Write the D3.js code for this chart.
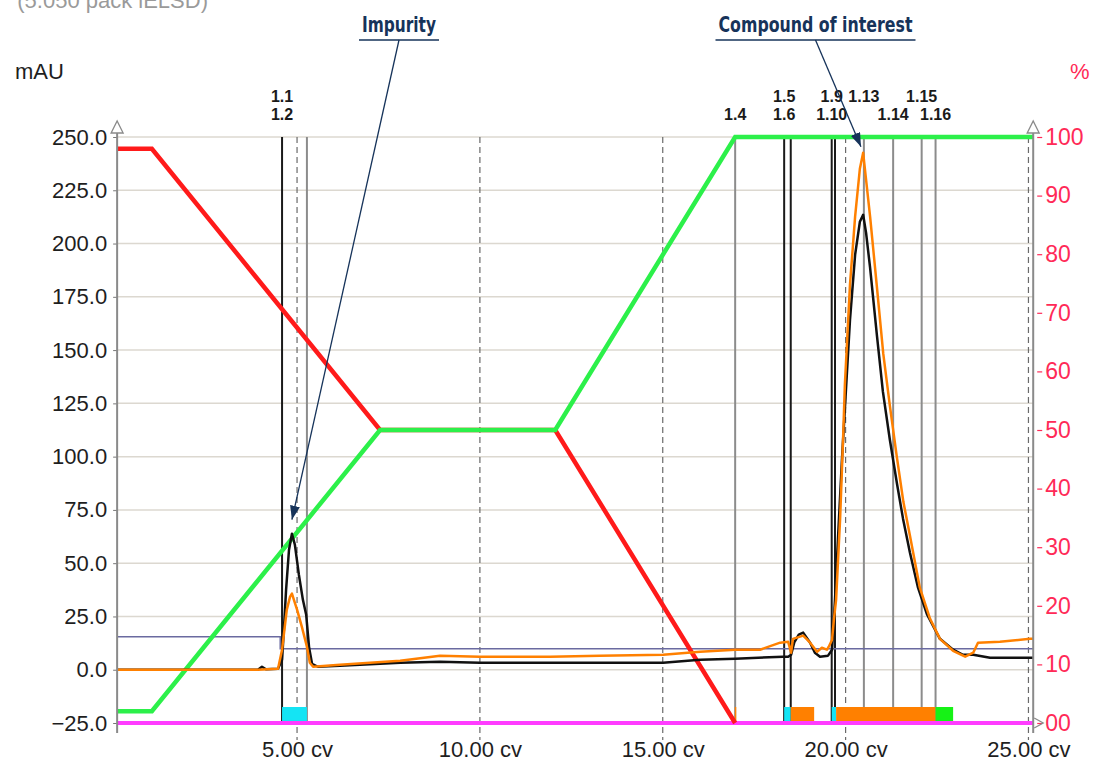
<!DOCTYPE html>
<html>
<head>
<meta charset="utf-8">
<script src="https://cdn.jsdelivr.net/npm/d3@7"></script>
<style>
  body { margin: 0; background: #fff; }
  svg { display: block; font-family: "Liberation Sans", Arial, sans-serif; }
</style>
</head>
<body>
<div id="chart"></div>
<script>
// UV trace (mAU) vs column volumes
const uvTrace = [
  [0.08,0],[3.93,0],[4.04,1.4],[4.15,0.2],[4.48,0.5],[4.59,4.7],[4.64,18.8],[4.70,37.5],[4.78,56.3],
  [4.86,63.8],[4.94,58.7],[5.05,44.6],[5.16,32.8],[5.25,25.8],[5.33,10.3],[5.41,2.8],[5.57,1.4],
  [6.17,1.9],[7.82,3.3],[8.91,3.8],[10.0,3.3],[13.28,3.3],[15.01,3.3],[16.02,4.7],[16.98,5.2],
  [18.29,6.1],[18.43,6.1],[18.51,7.0],[18.60,13.0],[18.72,16.5],[18.84,17.4],[19.03,12.7],[19.16,8.0],
  [19.30,6.1],[19.52,6.6],[19.63,9.4],[19.71,32.8],[19.79,61.0],[19.90,98.5],[20.01,131.4],[20.12,164.2],
  [20.26,194.7],[20.39,210.2],[20.48,213.5],[20.56,205.0],[20.67,188.6],[20.86,156.3],[21.02,130.5],
  [21.21,107.9],[21.41,86.8],[21.57,70.9],[21.76,54.9],[21.98,38.5],[22.23,25.8],[22.58,14.5],
  [22.94,9.4],[23.21,7.0],[23.49,7.0],[23.95,5.6],[25.13,5.6]
];
// ELSD trace
const elsdTrace = [
  [0.08,0],[3.93,0],[4.48,0.5],[4.59,9.4],[4.72,28.2],[4.81,34.3],[4.86,35.7],[5.00,28.2],[5.13,20.2],
  [5.27,10.8],[5.35,3.3],[5.44,1.4],[6.17,2.3],[7.82,4.2],[8.91,6.6],[10.0,6.1],[11.92,6.1],[13.28,6.6],
  [15.01,7.0],[16.02,8.4],[16.98,9.4],[17.66,9.4],[18.21,12.7],[18.43,13.1],[18.51,8.0],[18.56,14.5],
  [18.84,16.0],[19.03,12.7],[19.22,8.4],[19.35,10.3],[19.49,9.4],[19.54,10.8],[19.63,14.1],[19.68,23.5],
  [19.74,32.8],[19.85,70.9],[19.93,107.9],[19.98,133.7],[20.12,180.7],[20.26,212.6],[20.39,235.1],
  [20.48,242.6],[20.67,212.6],[20.85,180.7],[21.03,148.3],[21.21,123.9],[21.40,100.0],[21.58,78.8],
  [21.76,62.9],[22.03,38.5],[22.31,23.9],[22.58,14.5],[22.94,8.9],[23.27,6.1],[23.49,8.0],[23.62,12.7],
  [24.22,13.1],[25.04,14.5],[25.13,14.5]
];
// gradient (%)
const solventB = [[0.08,2],[1.03,2],[7.27,50],[12.06,50],[16.98,100],[25.13,100]];
const solventA = [[0.08,98],[1.03,98],[7.27,50],[12.06,50],[16.98,0]];
const thresholdLevel = [[0.08,15.5],[4.54,15.5],[4.54,9.9],[25.13,9.9]];
const baselinePct = [[0.08,0],[25.13,0]];

const fractionLabels = [
  {label:"1.1", cv:4.59, row:0}, {label:"1.2", cv:4.59, row:1},
  {label:"1.4", cv:16.98, row:1},
  {label:"1.5", cv:18.32, row:0}, {label:"1.6", cv:18.32, row:1},
  {label:"1.9", cv:19.62, row:0}, {label:"1.10", cv:19.62, row:1},
  {label:"1.13", cv:20.50, row:0}, {label:"1.14", cv:21.30, row:1},
  {label:"1.15", cv:22.08, row:0}, {label:"1.16", cv:22.46, row:1}
];
const fractionCuts = [
  {cv:4.59, main:true}, {cv:5.27, main:false}, {cv:16.98, main:false},
  {cv:18.32, main:true}, {cv:18.50, main:true}, {cv:19.62, main:true}, {cv:19.71, main:true},
  {cv:20.50, main:false}, {cv:21.30, main:false}, {cv:22.08, main:false}, {cv:22.46, main:false}
];
const tubes = [
  {from:4.59, to:5.27, kind:"cyan"}, {from:16.97, to:17.01, kind:"orange"},
  {from:18.32, to:18.50, kind:"cyan"}, {from:18.50, to:19.14, kind:"orange"},
  {from:19.62, to:19.74, kind:"cyan"}, {from:19.74, to:22.46, kind:"orange"},
  {from:22.46, to:22.94, kind:"green"}
];
const mauTicks = d3.range(-25, 251, 25);
const pctTicks = d3.range(0, 101, 10);
const cvTicks = [5, 10, 15, 20, 25];
const annotations = [
  {text:"Impurity", cv:4.86, mau:70.4},
  {text:"Compound of interest", cv:20.42, mau:245.4}
];

const width = 1095, height = 763;
const tubeColor = {cyan:"#14e4f4", orange:"#ff8000", green:"#16f216"};
const navy = "#16335a";
const pctRed = "#ff2a57";

const x = d3.scaleLinear().domain([0, 25]).range([114.2, 1028.45]);
const yL = d3.scaleLinear().domain([-25, 250]).range([723, 137]);
const yR = d3.scaleLinear().domain([0, 100]).range([723, 137]);
const xMin = x(0.08), xMax = x(25.13);

const svg = d3.select("#chart").append("svg")
    .attr("width", width)
    .attr("height", height)
    .attr("viewBox", [0, 0, width, height]);

// cut-off title at the very top
svg.append("text")
    .attr("x", 208).attr("y", 8)
    .attr("text-anchor", "end")
    .attr("font-size", 22)
    .attr("fill", "#9a9a9a")
    .text("(5.050 pack iELSD)");

// horizontal grid
svg.append("g")
  .selectAll("line")
  .data(mauTicks)
  .join("line")
    .attr("x1", xMin).attr("x2", xMax)
    .attr("y1", d => yL(d)).attr("y2", d => yL(d))
    .attr("stroke", "#dcd8d0")
    .attr("stroke-width", 1.5);

// dashed verticals at cv ticks
svg.append("g")
  .selectAll("line")
  .data(cvTicks)
  .join("line")
    .attr("x1", d => x(d)).attr("x2", d => x(d))
    .attr("y1", yL(250)).attr("y2", yL(-25) + 17)
    .attr("stroke", "#6a6a6a")
    .attr("stroke-width", 1.2)
    .attr("stroke-dasharray", "6,4");

// fraction cut lines
svg.append("g")
  .selectAll("line")
  .data(fractionCuts)
  .join("line")
    .attr("x1", d => x(d.cv)).attr("x2", d => x(d.cv))
    .attr("y1", yL(250)).attr("y2", yL(-25))
    .attr("stroke", d => d.main ? "#1a1a1a" : "#8c8c8c")
    .attr("stroke-width", 2);

// tube bars
svg.append("g")
  .selectAll("rect")
  .data(tubes)
  .join("rect")
    .attr("x", d => x(d.from))
    .attr("width", d => Math.max(1, x(d.to) - x(d.from)))
    .attr("y", yR(0) - 16)
    .attr("height", 16)
    .attr("fill", d => tubeColor[d.kind]);

const linePct = d3.line().x(d => x(d[0])).y(d => yR(d[1]));
const lineMau = d3.line().x(d => x(d[0])).y(d => yL(d[1]));

svg.append("path").datum(baselinePct)
    .attr("d", linePct).attr("fill", "none")
    .attr("stroke", "#ff3cff").attr("stroke-width", 4);

svg.append("path").datum(thresholdLevel)
    .attr("d", lineMau).attr("fill", "none")
    .attr("stroke", "#6a6aa0").attr("stroke-width", 1.5);

svg.append("path").datum(solventA)
    .attr("d", linePct).attr("fill", "none")
    .attr("stroke", "#ff1a1a").attr("stroke-width", 4.5);

svg.append("path").datum(solventB)
    .attr("d", linePct).attr("fill", "none")
    .attr("stroke", "#2cf04a").attr("stroke-width", 4.5);

svg.append("path").datum(uvTrace)
    .attr("d", lineMau).attr("fill", "none")
    .attr("stroke", "#111").attr("stroke-width", 2.5)
    .attr("stroke-linejoin", "round");

svg.append("path").datum(elsdTrace)
    .attr("d", lineMau).attr("fill", "none")
    .attr("stroke", "#ff8000").attr("stroke-width", 2.5)
    .attr("stroke-linejoin", "round");

// left axis
svg.append("g")
    .attr("transform", `translate(${xMin},0)`)
    .call(d3.axisLeft(yL).tickValues(mauTicks).tickFormat(d3.format(".1f")).tickSize(4).tickPadding(6))
    .call(g => g.select(".domain").remove())
    .call(g => g.selectAll(".tick line").attr("stroke", "#777"))
    .call(g => g.selectAll(".tick text")
        .attr("font-size", 22).attr("fill", "#1e1e1e").attr("font-family", "Liberation Sans, Arial"));

// right axis
svg.append("g")
    .attr("transform", `translate(${xMax},0)`)
    .call(d3.axisRight(yR).tickValues(pctTicks).tickFormat(d => d === 0 ? "00" : d).tickSize(0).tickPadding(12))
    .call(g => g.select(".domain").remove())
    .call(g => g.selectAll(".tick").append("line")
        .attr("x1", 4).attr("x2", 9).attr("stroke", pctRed).attr("stroke-width", 1.2))
    .call(g => g.selectAll(".tick text")
        .attr("font-size", 23).attr("fill", pctRed).attr("font-family", "Liberation Sans, Arial"));

// x axis labels
svg.append("g")
    .attr("transform", `translate(0,${yL(-25)})`)
    .call(d3.axisBottom(x).tickValues(cvTicks).tickFormat(d => d3.format(".2f")(d) + " cv").tickSize(0).tickPadding(18))
    .call(g => g.select(".domain").remove())
    .call(g => g.selectAll(".tick text")
        .attr("font-size", 22).attr("fill", "#1e1e1e").attr("font-family", "Liberation Sans, Arial"));

// axis lines with open arrow heads
[xMin, xMax].forEach(ax => {
  svg.append("line")
      .attr("x1", ax).attr("x2", ax)
      .attr("y1", yL(250) - 6).attr("y2", yL(-25) + 10)
      .attr("stroke", "#8a8a8a").attr("stroke-width", 2);
  svg.append("path")
      .attr("d", `M${ax - 6},${yL(250) - 4}L${ax},${yL(250) - 16}L${ax + 6},${yL(250) - 4}Z`)
      .attr("fill", "#fff").attr("stroke", "#8a8a8a").attr("stroke-width", 1.3);
});
svg.append("path")
    .attr("d", `M${xMax + 1},${yR(0) - 5}L${xMax + 10},${yR(0)}L${xMax + 1},${yR(0) + 5}`)
    .attr("fill", "none").attr("stroke", "#8a8a8a").attr("stroke-width", 1.3);

// axis titles
svg.append("text").attr("x", 15).attr("y", 79)
    .attr("font-size", 22).attr("fill", "#1e1e1e").text("mAU");
svg.append("text").attr("x", 1070).attr("y", 79)
    .attr("font-size", 22).attr("fill", pctRed).text("%");

// fraction labels
svg.append("g")
  .selectAll("text")
  .data(fractionLabels)
  .join("text")
    .attr("x", d => x(d.cv))
    .attr("y", d => 102 + d.row * 18)
    .attr("text-anchor", "middle")
    .attr("font-size", 16)
    .attr("font-weight", "bold")
    .attr("fill", "#1a1a1a")
    .text(d => d.label);

// annotations
svg.append("defs").append("marker")
    .attr("id", "arrow")
    .attr("viewBox", "0 0 14 10")
    .attr("refX", 14).attr("refY", 5)
    .attr("markerWidth", 14).attr("markerHeight", 10)
    .attr("markerUnits", "userSpaceOnUse")
    .attr("orient", "auto")
  .append("path")
    .attr("d", "M0,0L14,5L0,10Z")
    .attr("fill", navy);

const labelAt = {"Impurity": {cx: 399, w: 74}, "Compound of interest": {cx: 815.5, w: 194}};
const ann = svg.append("g");
annotations.forEach(a => {
  const p = labelAt[a.text];
  ann.append("text")
      .attr("x", p.cx - p.w / 2).attr("y", 32)
      .attr("textLength", p.w).attr("lengthAdjust", "spacingAndGlyphs")
      .attr("font-family", "Liberation Sans Narrow, DejaVu Sans Condensed, sans-serif")
      .attr("font-weight", "bold")
      .attr("font-size", 21)
      .attr("fill", navy)
      .text(a.text);
  ann.append("line")
      .attr("x1", p.cx - p.w / 2 - 3).attr("x2", p.cx + p.w / 2 + 3)
      .attr("y1", 40).attr("y2", 40)
      .attr("stroke", navy).attr("stroke-width", 1.5);
  ann.append("line")
      .attr("x1", p.cx).attr("y1", 40)
      .attr("x2", x(a.cv)).attr("y2", yL(a.mau))
      .attr("stroke", navy).attr("stroke-width", 1.3)
      .attr("marker-end", "url(#arrow)");
});
</script>
</body>
</html>
